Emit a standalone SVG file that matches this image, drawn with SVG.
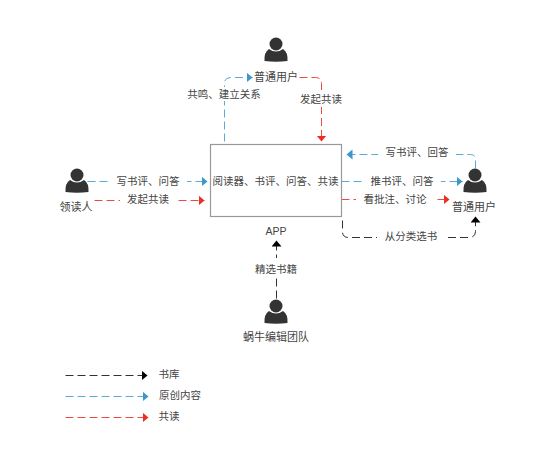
<svg xmlns="http://www.w3.org/2000/svg" width="537" height="473" viewBox="0 0 537 473">
<style>
text{font-family:"Liberation Sans","Noto Sans CJK SC",sans-serif;font-size:10.500px;fill:#444;text-anchor:middle}
.n{font-size:11px}
.c{fill:none;stroke-width:1;stroke-dasharray:8 4}
.b{stroke:#5aabd4}.r{stroke:#ee4a42}.k{stroke:#333}
.p{fill:#333}
.l{fill:#fff;stroke:none}
</style>
<defs>
<marker id="ab" markerWidth="8" markerHeight="11" refX="6" refY="5" orient="auto" markerUnits="userSpaceOnUse"><path d="M0 0L6 5L0 10Z" fill="#3d97c9"/></marker>
<marker id="ar" markerWidth="8" markerHeight="11" refX="6" refY="5" orient="auto" markerUnits="userSpaceOnUse"><path d="M0 0L6 5L0 10Z" fill="#ee2d25"/></marker>
<marker id="ak" markerWidth="8" markerHeight="11" refX="6" refY="5" orient="auto" markerUnits="userSpaceOnUse"><path d="M0 0L6 5L0 10Z" fill="#000"/></marker>
<g id="person"><circle cx="0" cy="-6" r="6.500" class="p"/><path class="p" d="M-11.500 11Q-12 2-7-1Q0 4 7-1Q12 2 11.500 11Q0 12.500-11.500 11Z"/></g>
</defs>
<g id="connectors" transform="translate(.5 .5)">
<path class="c b" d="M224 141V83Q224 77 230 77H252" marker-end="url(#ab)"/>
<path class="c r" d="M299 77H315Q321 77 321 83V141" marker-end="url(#ar)"/>
<path class="c b" d="M87 181H207" marker-end="url(#ab)"/>
<path class="c r" d="M94 200H204" marker-end="url(#ar)"/>
<path class="c b" d="M475 168V159Q475 154 470 154H346" marker-end="url(#ab)"/>
<path class="c b" d="M341 181H462" marker-end="url(#ab)"/>
<path class="c r" d="M341 199H449" marker-end="url(#ar)"/>
<path class="c k" d="M342 220V231Q342 237 348 237H468Q475 237 475 231V216" marker-end="url(#ak)"/>
<path class="c k" d="M276 298V240" marker-end="url(#ak)"/>
<path class="c k" d="M65 375H147" marker-end="url(#ak)"/>
<path class="c b" d="M65 396H148" marker-end="url(#ab)"/>
<path class="c r" d="M65 417H148" marker-end="url(#ar)"/>
</g>
<g id="edge-labels">
<rect class="l" x="110" y="174" width="77" height="14"/><text x="148" y="185">写书评、问答</text>
<rect class="l" x="120" y="193" width="57" height="14"/><text x="148" y="203">发起共读</text>
<rect class="l" x="378" y="147" width="78" height="14"/><text x="417" y="156">写书评、回答</text>
<rect class="l" x="363" y="174" width="78" height="14"/><text x="402" y="185">推书评、问答</text>
<rect class="l" x="356" y="192" width="78" height="14"/><text x="395" y="203">看批注、讨论</text>
<rect class="l" x="377" y="230" width="67" height="14"/><text x="411" y="240">从分类选书</text>
<rect class="l" x="250" y="258" width="52" height="20"/><text x="276" y="273">精选书籍</text>
<rect class="l" x="186" y="87" width="76" height="14"/><text x="224" y="98">共鸣、建立关系</text>
<rect class="l" x="298" y="93" width="46" height="14"/><text x="321" y="103">发起共读</text>
</g>
<g id="app"><rect x="210.500" y="144.500" width="131" height="72" fill="#fff" stroke="#999" stroke-width="1.200"/><text x="275.500" y="185">阅读器、书评、问答、共读</text><text x="276" y="235">APP</text></g>
<g id="user-top"><use href="#person" x="276" y="50"/><text class="n" x="276" y="81">普通用户</text></g>
<g id="leader"><use href="#person" x="77" y="181"/><text class="n" x="76" y="211">领读人</text></g>
<g id="user-right"><use href="#person" x="475" y="181"/><text class="n" x="474" y="211">普通用户</text></g>
<g id="team"><use href="#person" x="276" y="312"/><text class="n" x="276" y="341">蜗牛编辑团队</text></g>
<g id="legend"><text x="169" y="378">书库</text><text x="180" y="399">原创内容</text><text x="169" y="420">共读</text></g>
</svg>
